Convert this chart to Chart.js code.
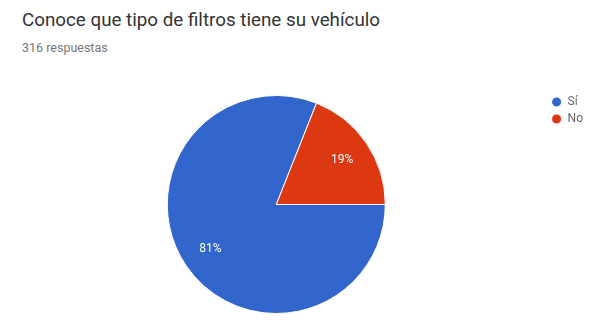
<!DOCTYPE html>
<html>
<head>
<meta charset="utf-8">
<script src="https://cdn.jsdelivr.net/npm/chart.js@4"></script>
<style>
  body { margin: 0; background: #fff; font-family: Roboto, sans-serif; }
  #wrap { position: relative; width: 589px; height: 325px; }
  #title { position: absolute; left: 22px; top: 9px; font-size: 18.8px; color: #333; white-space: nowrap; }
  #sub { position: absolute; left: 22px; top: 40px; font-size: 12.5px; color: #777; white-space: nowrap; }
  canvas { position: absolute; left: 0; top: 0; }
</style>
</head>
<body>
<div id="wrap">
  <div id="title">Conoce que tipo de filtros tiene su vehículo</div>
  <div id="sub">316 respuestas</div>
  <canvas id="chart" width="589" height="325"></canvas>
</div>
<script>
const labels = ["Sí", "No"];
const answers = [256, 60];
const colors = ["#3366cc", "#dc3912"];

// percent labels drawn inside each slice
const sliceLabels = {
  id: 'sliceLabels',
  afterDatasetsDraw(chart) {
    const ctx = chart.ctx;
    const meta = chart.getDatasetMeta(0);
    const total = answers.reduce((a, b) => a + b, 0);
    ctx.save();
    ctx.font = "12px Roboto";
    ctx.fillStyle = "#fff";
    ctx.textAlign = "center";
    ctx.textBaseline = "middle";
    meta.data.forEach((arc, i) => {
      const p = arc.getProps(['x', 'y', 'startAngle', 'endAngle', 'outerRadius'], true);
      const mid = (p.startAngle + p.endAngle) / 2;
      const r = p.outerRadius * 0.73;
      const pct = Math.round(answers[i] / total * 100) + "%";
      ctx.fillText(pct, p.x + Math.cos(mid) * r, p.y + Math.sin(mid) * r);
    });
    ctx.restore();
  }
};

new Chart(document.getElementById('chart').getContext('2d'), {
  type: 'pie',
  data: {
    labels: labels,
    datasets: [{
      data: answers,
      backgroundColor: colors,
      borderColor: '#fff',
      borderWidth: 1,
      radius: 109
    }]
  },
  options: {
    responsive: false,
    animation: false,
    rotation: 90,
    layout: { padding: { left: 6, right: -4, top: 91, bottom: 7 } },
    plugins: {
      tooltip: { enabled: false },
      legend: {
        position: 'right',
        align: 'start',
        fullSize: false,
        labels: {
          boxWidth: 10,
          boxHeight: 10,
          useBorderRadius: true,
          borderRadius: 5,
          padding: 5,
          color: '#666',
          font: { family: 'Roboto', size: 12 }
        }
      }
    }
  },
  plugins: [sliceLabels]
});
</script>
</body>
</html>
